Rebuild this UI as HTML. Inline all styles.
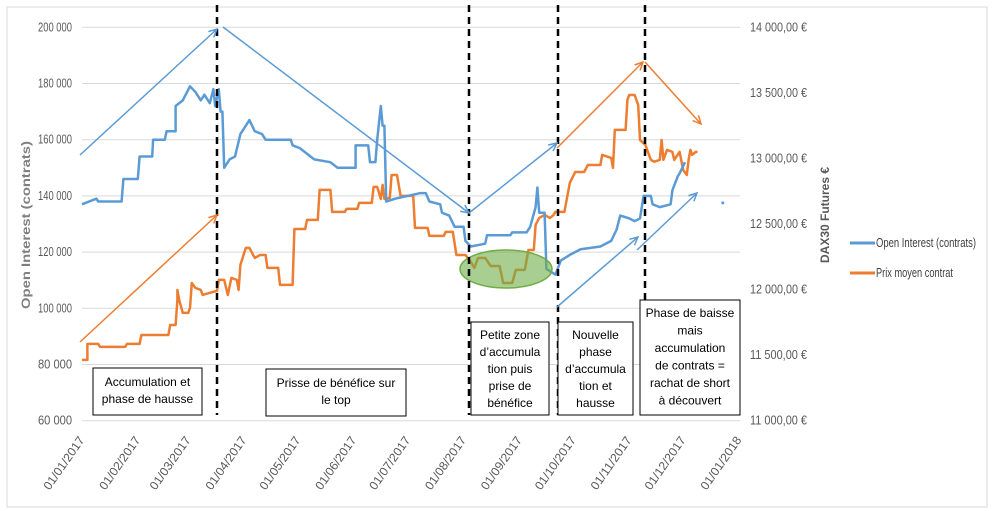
<!DOCTYPE html>
<html><head><meta charset="utf-8"><style>
body{margin:0;background:#fff;}
svg{display:block;font-family:"Liberation Sans",sans-serif;}
</style></head><body>
<svg id="c" width="995" height="511" viewBox="0 0 995 511">
<rect x="7" y="7" width="980" height="500" fill="#fff" stroke="#d9d9d9"/>
<g id="grid"></g><g id="axes"></g><g id="series"></g><g id="annot"></g>
</svg>
<script>
const monthLabels=["01/01/2017","01/02/2017","01/03/2017","01/04/2017","01/05/2017","01/06/2017","01/07/2017","01/08/2017","01/09/2017","01/10/2017","01/11/2017","01/12/2017","01/01/2018"];
const monthDays=[0,31,59,90,120,151,181,212,243,273,304,334,365];
const leftTicks=[60000,80000,100000,120000,140000,160000,180000,200000];
const rightTicks=[11000,11500,12000,12500,13000,13500,14000];
const oiDays=[0,8,9,22,23,31,32,39,39.5,46,47,52,52,56,60,63,66,68,71,73,74,76,77,78,79,82,85,88,91,93,96,100,102,116,117,121,129,138,142,152,152,159,160,163,164,166,167,168,169,174,188,191,193,199,200,204,207,212,213,216,224,225,238,239,247,249,252,253,254,257,258,263,266,271,277,288,294,297,299,304,307,310,312,316,317,321,327,328,331,332,335];
const oiValues=[137,139,138,138,146,146,154,154,160,160,163,163,172,174,179,177,174,176,173,178,172,178,170,170,150,153,154,162,165,167,163,162,160,160,158,157,153,152,150,150,158,158,152,152,160,172,165,165,138,139,141,141,138,137,134,133,129,129,124,122,123,126,126,127,127,129,136,143,134,134,114,112,117,119,121,122,124,128,133,132,131,132,140,140,137,136,137,142,147,148,152].map(v=>v*1000);
const oiExtraDay=[356];const oiExtraValue=[137500];
const pxDays=[0,3,3,9,10,24,25,32,33,48,49,52,53,53,54,56,59,60,61,63,66,67,71,75,76,79,81,83,86,87,88,91,93,96,99,102,103,109,110,117,118,124,125,131,132,138,139,146,147,153,154,161,162,164,166,167,168,171,172,175,177,184,185,192,193,201,202,206,208,213,216,218,220,224,227,232,234,239,241,246,248,251,252,254,257,260,262,263,268,271,274,279,281,288,289,294,295,296,302,303,304,307,309,310,313,316,318,321,322,323,325,328,329,332,334,336,337,338,339,341,342];
const pxValues=[11464,11464,11586,11586,11563,11563,11586,11586,11654,11654,11730,11730,11921,11997,11921,11822,11822,11860,12050,12013,11997,11959,11975,11990,12074,12074,11959,12089,12074,11997,12188,12318,12318,12241,12264,12264,12165,12165,12036,12036,12462,12462,12531,12531,12760,12760,12592,12592,12615,12615,12661,12661,12783,12783,12691,12798,12691,12699,12874,12874,12714,12714,12470,12470,12409,12409,12440,12440,12264,12264,12211,12165,12241,12241,12180,12180,12050,12050,12150,12150,12302,12302,12493,12546,12569,12546,12569,12592,12592,12813,12897,12897,12950,12950,13027,13004,12928,13218,13218,13446,13484,13484,13408,13141,13103,12989,12975,12989,13141,12989,13065,13050,12989,13050,12912,12874,12989,13065,13027,13050,13050];

const NS="http://www.w3.org/2000/svg";
const X=d=>82+d*1.8;
const YL=v=>27.3+(200000-v)/140000*393.4;
const YR=v=>27.3+(14000-v)/3000*393.4;
function mk(t,a,p){const e=document.createElementNS(NS,t);for(const k in a)e.setAttribute(k,a[k]);p.appendChild(e);return e;}
const grid=document.getElementById('grid'),axes=document.getElementById('axes'),ser=document.getElementById('series'),an=document.getElementById('annot');
const fmt=v=>String(v).replace(/\B(?=(\d{3})+(?!\d))/g,' ');
leftTicks.forEach(v=>{
 const l=mk('line',{x1:82,x2:740,y1:YL(v),y2:YL(v),stroke:'#d9d9d9','stroke-width':1},grid);
 
 
 const t=mk('text',{x:72,y:YL(v)+4,'text-anchor':'end','font-size':13,fill:'#595959',textLength:34,lengthAdjust:'spacingAndGlyphs'},axes);
 t.textContent=fmt(v);
 
 
});
rightTicks.forEach(v=>{
 const t=mk('text',{x:750,y:YR(v)+4,'font-size':13,fill:'#595959',textLength:57,lengthAdjust:'spacingAndGlyphs'},axes);
 t.textContent=fmt(v)+',00 €';
 
 
});
monthLabels.forEach((s,i)=>{
 const x=X(monthDays[i])+3,y=440;
 const t=mk('text',{x:x,y:y,'text-anchor':'end','font-size':12,fill:'#595959',transform:`rotate(-55 ${x} ${y})`,textLength:62,lengthAdjust:'spacingAndGlyphs'},axes);
 t.textContent=s;
 
 
});
let t=mk('text',{x:0,y:0,'text-anchor':'middle','font-size':12,'font-weight':'bold',fill:'#7f7f7f',transform:'translate(30 225) rotate(-90)',textLength:168,lengthAdjust:'spacingAndGlyphs'},axes);
t.textContent='Open Interest (contrats)';


t=mk('text',{x:0,y:0,'text-anchor':'middle','font-size':12,'font-weight':'bold',fill:'#595959',transform:'translate(829 215) rotate(-90)'},axes);
t.textContent='DAX30 Futures €';



let p=mk('polyline',{points:pxDays.map((d,i)=>X(d)+','+YR(pxValues[i])).join(' '),fill:'none',stroke:'#ed7d31','stroke-width':2.5,'stroke-linejoin':'round'},ser);


p=mk('polyline',{points:oiDays.map((d,i)=>X(d)+','+YL(oiValues[i])).join(' '),fill:'none',stroke:'#5b9bd5','stroke-width':2.5,'stroke-linejoin':'round'},ser);


oiExtraDay.forEach((d,i)=>{const c=mk('circle',{cx:X(d),cy:YL(oiExtraValue[i]),r:1.5,fill:'#5b9bd5'},ser);

});

const el=mk('ellipse',{cx:506,cy:269,rx:46,ry:19,fill:'rgba(112,173,71,0.6)',stroke:'#70ad47','stroke-width':1.5},an);


[217,469,558,645].forEach(x=>{const l=mk('line',{x1:x,x2:x,y1:5,y2:415,stroke:'#000','stroke-width':2.5,'stroke-dasharray':'7,5'},an);

});
function arrow(x1,y1,x2,y2,col){
 const g=mk('g',{},an);
 
 
 mk('line',{x1,y1,x2,y2,stroke:col,'stroke-width':1.5},g);
 const a=Math.atan2(y2-y1,x2-x1),L=9;
 const p1=[x2-L*Math.cos(a-0.45),y2-L*Math.sin(a-0.45)],p2=[x2-L*Math.cos(a+0.45),y2-L*Math.sin(a+0.45)];
 mk('polyline',{points:`${p1} ${x2},${y2} ${p2}`,fill:'none',stroke:col,'stroke-width':1.5},g);
}
const B='#5b9bd5',O='#ed7d31';
arrow(80,155,217,29,B);arrow(223,27,469,213,B);arrow(469,213,557,143,B);arrow(557,307,638,237,B);arrow(637,250,697,193,B);
arrow(80,342,217,215,O);arrow(557,148,643,62,O);arrow(645,62,701,124,O);
function box(x,y,w,h,lines,name,lh,ty){
 const g=mk('g',{},an);
 
 
 mk('rect',{x,y,width:w,height:h,fill:'#fff',stroke:'#000','stroke-width':1},g);
 lines.forEach((s,i)=>{const t=mk('text',{x:x+w/2,y:ty+i*lh,'text-anchor':'middle','font-size':12,fill:'#000'},g);t.textContent=s;});
}
box(93,368,109,47,['Accumulation et','phase de hausse'],'phase1-note',17,386);
box(266,369,140,47,['Prisse de bénéfice sur','le top'],'phase2-note',17,387);
box(471,322,78,93,['Petite zone','d’accumula','tion puis','prise de','bénéfice'],'phase3-note',17,339);
box(558,322,75,93,['Nouvelle','phase','d’accumula','tion et','hausse'],'phase4-note',17,339);
box(640,300,100,115,['Phase de baisse','mais','accumulation','de contrats =','rachat de short','à découvert'],'phase5-note',17.5,317);
const lg=mk('g',{},an);


mk('line',{x1:850,x2:875,y1:243,y2:243,stroke:B,'stroke-width':3},lg);
t=mk('text',{x:876,y:247,'font-size':13,fill:'#404040',textLength:100,lengthAdjust:'spacingAndGlyphs'},lg);t.textContent='Open Interest (contrats)';
mk('line',{x1:850,x2:875,y1:273,y2:273,stroke:O,'stroke-width':3},lg);
t=mk('text',{x:876,y:277,'font-size':13,fill:'#404040',textLength:77,lengthAdjust:'spacingAndGlyphs'},lg);t.textContent='Prix moyen contrat';
</script>
</body></html>
